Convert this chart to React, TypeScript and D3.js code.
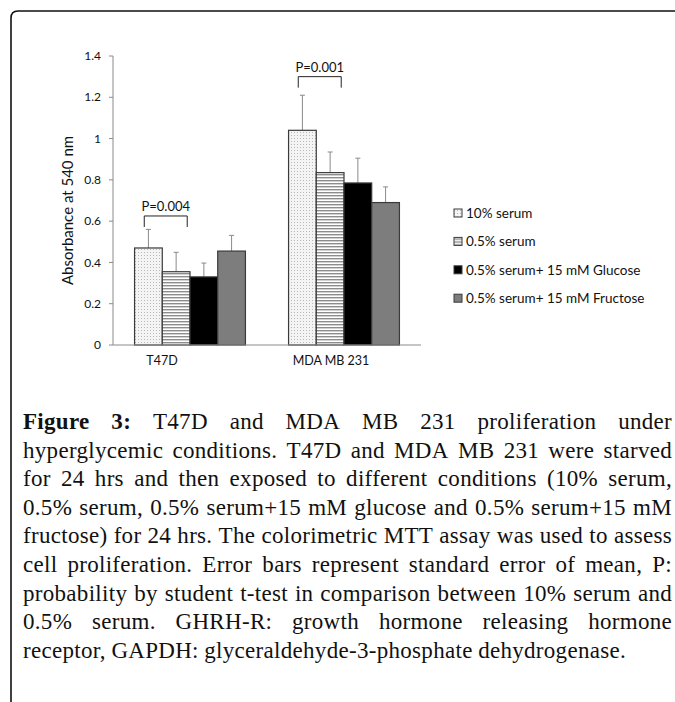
import React, { useRef, useEffect } from 'react';
import * as d3 from 'd3';

const categories = ['T47D', 'MDA MB 231'];
const seriesNames = [
  '10% serum',
  '0.5% serum',
  '0.5% serum+ 15 mM Glucose',
  '0.5% serum+ 15 mM Fructose'
];
const t47dMeans = [0.47, 0.355, 0.33, 0.455];
const t47dErrors = [0.09, 0.094, 0.067, 0.076];
const mdaMeans = [1.04, 0.835, 0.785, 0.69];
const mdaErrors = [0.17, 0.1, 0.12, 0.076];
const yTicks = [0, 0.2, 0.4, 0.6, 0.8, 1, 1.2, 1.4];
const yTickLabels = ['0', '0.2', '0.4', '0.6', '0.8', '1', '1.2', '1.4'];
const pLabels = ['P=0.004', 'P=0.001'];
const bracketLevels = [0.625, 1.3];

const captionLines = [
  'Figure 3: T47D and MDA MB 231 proliferation under',
  'hyperglycemic conditions. T47D and MDA MB 231 were starved',
  'for 24 hrs and then exposed to different conditions (10% serum,',
  '0.5% serum, 0.5% serum+15 mM glucose and 0.5% serum+15 mM',
  'fructose) for 24 hrs. The colorimetric MTT assay was used to assess',
  'cell proliferation. Error bars represent standard error of mean, P:',
  'probability by student t-test in comparison between 10% serum and',
  '0.5% serum. GHRH-R: growth hormone releasing hormone',
  'receptor, GAPDH: glyceraldehyde-3-phosphate dehydrogenase.'
];

const W = 675;
const H = 702;
const sans = 'Lato, "Open Sans", sans-serif';
const serif = '"Liberation Serif", serif';

export default function App() {
  const svgRef = useRef<SVGSVGElement>(null);

  useEffect(() => {
    if (!svgRef.current) return;
    const svg = d3.select(svgRef.current);
    svg.selectAll('*').remove();

    // patterns
    const defs = svg.append('defs');
    const dots = defs
      .append('pattern')
      .attr('id', 'dots')
      .attr('width', 3)
      .attr('height', 3)
      .attr('patternUnits', 'userSpaceOnUse');
    dots.append('rect').attr('width', 3).attr('height', 3).attr('fill', '#f4f4f4');
    dots.append('rect').attr('width', 1).attr('height', 1).attr('fill', '#b8b8b8');
    const stripes = defs
      .append('pattern')
      .attr('id', 'stripes')
      .attr('width', 4)
      .attr('height', 3)
      .attr('patternUnits', 'userSpaceOnUse');
    stripes.append('rect').attr('width', 4).attr('height', 3).attr('fill', '#ffffff');
    stripes.append('rect').attr('width', 4).attr('height', 1.4).attr('fill', '#8c8c8c');
    const fills = ['url(#dots)', 'url(#stripes)', '#000000', '#7d7d7d'];

    // frame
    svg
      .append('path')
      .attr('d', `M11,${H} L11,18 Q11,11 18,11 L${W},11`)
      .attr('fill', 'none')
      .attr('stroke', '#111')
      .attr('stroke-width', 1.6);

    const y = d3.scaleLinear().domain([0, 1.4]).range([345, 56]);
    const x0 = d3
      .scaleBand()
      .domain(categories)
      .range([113, 421])
      .paddingInner(0.28)
      .paddingOuter(0.14);
    const x1 = d3
      .scaleBand()
      .domain(seriesNames)
      .range([0, x0.bandwidth()]);

    // y axis
    const yAxis = svg.append('g');
    yAxis
      .append('line')
      .attr('x1', 113)
      .attr('x2', 113)
      .attr('y1', y(0))
      .attr('y2', y(1.4))
      .attr('stroke', '#8a8a8a');
    yTicks.forEach((t, i) => {
      yAxis
        .append('line')
        .attr('x1', 109)
        .attr('x2', 113)
        .attr('y1', y(t))
        .attr('y2', y(t))
        .attr('stroke', '#8a8a8a');
      yAxis
        .append('text')
        .attr('x', 101)
        .attr('y', y(t))
        .attr('dy', '0.35em')
        .attr('text-anchor', 'end')
        .attr('font-family', sans)
        .attr('font-size', 12)
        .attr('fill', '#111')
        .text(yTickLabels[i]);
    });
    svg
      .append('text')
      .attr('transform', `translate(73,${(y(0) + y(1.4)) / 2 + 10}) rotate(-90)`)
      .attr('text-anchor', 'middle')
      .attr('font-family', sans)
      .attr('font-size', 15)
      .attr('fill', '#111')
      .text('Absorbance at 540 nm');

    // bars
    const groups = [
      { means: t47dMeans, errs: t47dErrors },
      { means: mdaMeans, errs: mdaErrors }
    ];
    const labelNudge = [-28, -13];
    groups.forEach((g, gi) => {
      const gx = x0(categories[gi]) as number;
      g.means.forEach((m, si) => {
        const bx = gx + (x1(seriesNames[si]) as number);
        const bw = x1.bandwidth();
        const cx = bx + bw / 2;
        svg
          .append('line')
          .attr('x1', cx)
          .attr('x2', cx)
          .attr('y1', y(m))
          .attr('y2', y(m + g.errs[si]))
          .attr('stroke', '#8a8a8a')
          .attr('stroke-width', 1);
        svg
          .append('line')
          .attr('x1', cx - 2.5)
          .attr('x2', cx + 2.5)
          .attr('y1', y(m + g.errs[si]))
          .attr('y2', y(m + g.errs[si]))
          .attr('stroke', '#8a8a8a');
        svg
          .append('rect')
          .attr('x', bx)
          .attr('y', y(m))
          .attr('width', bw)
          .attr('height', y(0) - y(m))
          .attr('fill', fills[si])
          .attr('stroke', '#3a3a3a')
          .attr('stroke-width', 1.2);
      });

      // significance bracket between first two bars
      const bw = x1.bandwidth();
      const lx = gx + (x1(seriesNames[0]) as number) + bw * 0.35;
      const rx = gx + (x1(seriesNames[1]) as number) + bw * 0.9;
      const top = y(bracketLevels[gi]);
      svg
        .append('path')
        .attr('d', `M${lx},${top + 11} L${lx},${top} L${rx},${top} L${rx},${top + 11}`)
        .attr('fill', 'none')
        .attr('stroke', '#222')
        .attr('stroke-width', 1);
      svg
        .append('text')
        .attr('x', (lx + rx) / 2)
        .attr('y', top - 5)
        .attr('text-anchor', 'middle')
        .attr('font-family', sans)
        .attr('font-size', 13)
        .attr('fill', '#111')
        .text(pLabels[gi]);

      svg
        .append('text')
        .attr('x', gx + x0.bandwidth() / 2 + labelNudge[gi])
        .attr('y', 365)
        .attr('text-anchor', 'middle')
        .attr('font-family', sans)
        .attr('font-size', 12.5)
        .attr('fill', '#111')
        .text(categories[gi]);
    });

    // x axis
    svg
      .append('line')
      .attr('x1', 113)
      .attr('x2', 421)
      .attr('y1', y(0))
      .attr('y2', y(0))
      .attr('stroke', '#8a8a8a');

    // legend
    const legend = svg.append('g').attr('transform', 'translate(454,213)');
    seriesNames.forEach((name, i) => {
      const row = legend.append('g').attr('transform', `translate(0,${i * 28.4})`);
      row
        .append('rect')
        .attr('x', 0)
        .attr('y', -4)
        .attr('width', 8)
        .attr('height', 8)
        .attr('fill', fills[i])
        .attr('stroke', '#3a3a3a')
        .attr('stroke-width', 1);
      row
        .append('text')
        .attr('x', 12)
        .attr('y', 0)
        .attr('dy', '0.35em')
        .attr('font-family', sans)
        .attr('font-size', 13.5)
        .attr('fill', '#111')
        .text(name);
    });

    // caption, justified
    const left = 23;
    const right = 672;
    const cap = svg.append('g');
    captionLines.forEach((line, li) => {
      const words = line.split(' ');
      const baseY = 429 + li * 28.6;
      const nodes = words.map((w, wi) =>
        cap
          .append('text')
          .attr('y', baseY)
          .attr('font-family', serif)
          .attr('font-size', 23)
          .attr('letter-spacing', 0.3)
          .attr('font-weight', li === 0 && wi < 2 ? 'bold' : 'normal')
          .attr('fill', '#111')
          .text(w)
      );
      const widths = nodes.map((n) => (n.node() as SVGTextElement).getComputedTextLength());
      const total = d3.sum(widths);
      const last = li === captionLines.length - 1;
      const gap = last ? 5.5 : (right - left - total) / (words.length - 1);
      let cx = left;
      nodes.forEach((n, i) => {
        n.attr('x', cx);
        cx += widths[i] + gap;
      });
    });
  }, []);

  return (
    <svg
      ref={svgRef}
      width={W}
      height={H}
      style={{ position: 'absolute', left: 0, top: 0, background: '#fff' }}
    />
  );
}
